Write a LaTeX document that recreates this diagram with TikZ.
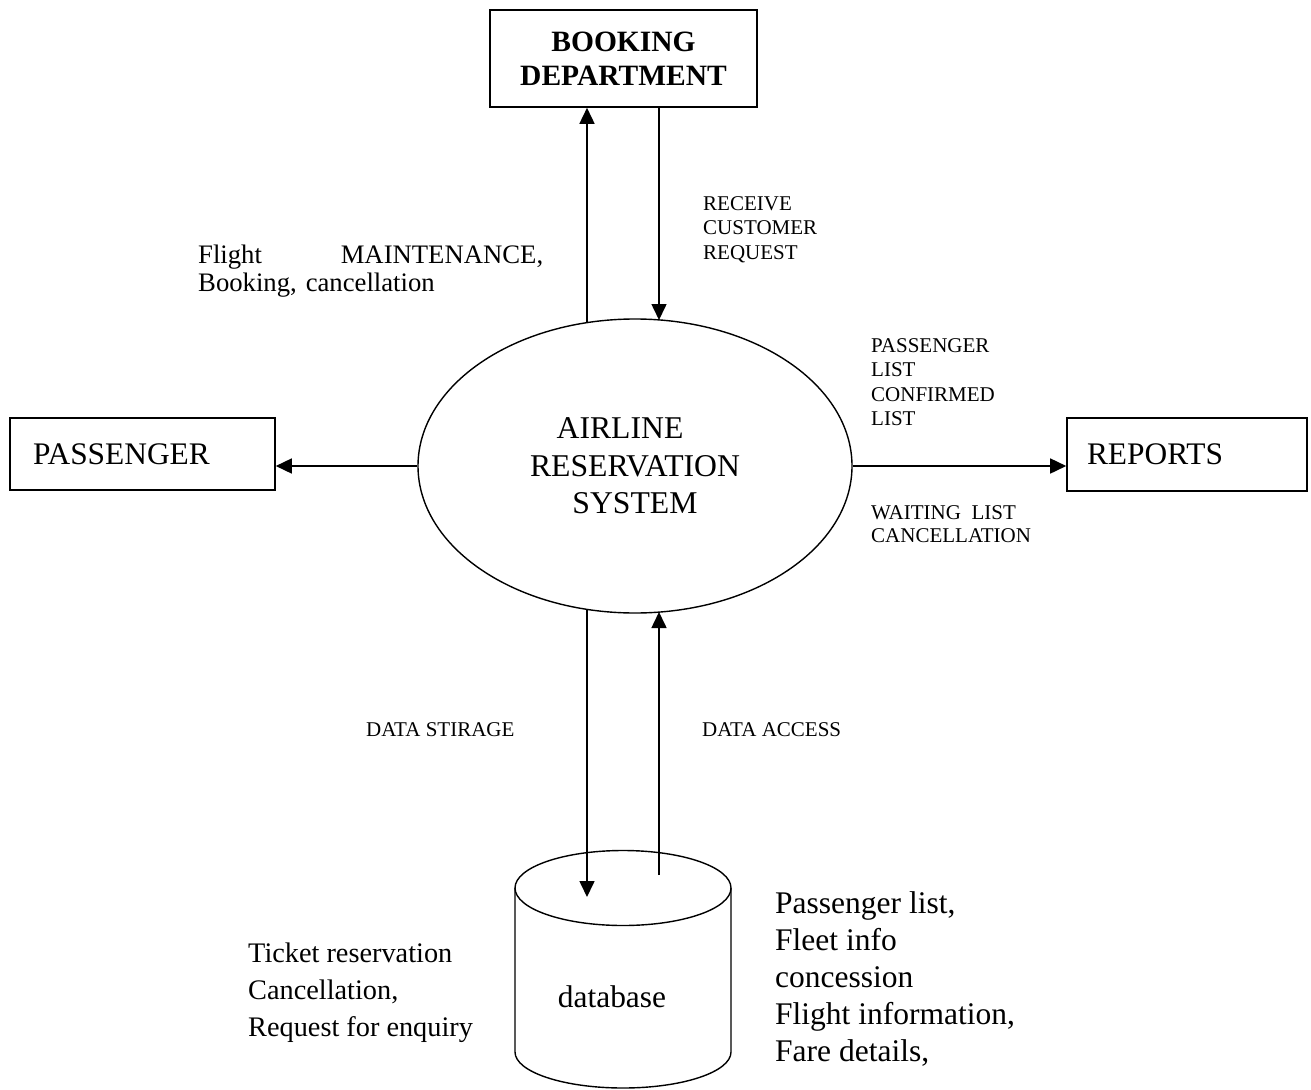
\documentclass[tikz,border=0pt]{standalone}
\usepackage{fontspec}
\setmainfont{Liberation Serif}
\usepackage{tikz}
\usetikzlibrary{shapes.geometric, arrows.meta}
\tikzstyle{entity} = [rectangle, draw=black, line width=1.6pt, inner sep=0pt]
\tikzstyle{process} = [ellipse, draw=black, line width=1.4pt, minimum width=434pt, minimum height=294pt, inner sep=0pt, align=center, font=\fontsize{31.7}{37.5}\selectfont]
\tikzstyle{arrow} = [line width=1.6pt,-{Triangle[length=16pt,width=15pt]}]
\tikzstyle{flow} = [inner sep=0pt, anchor=base west, align=left, font=\fontsize{21}{24.5}\selectfont]
\tikzstyle{store} = [inner sep=0pt, anchor=base west, align=left, font=\fontsize{28.3}{37}\selectfont]

\begin{document}
\begin{tikzpicture}[x=1pt, y=-1pt]
\useasboundingbox (0,0) rectangle (1311,1089);

\node (booking) [entity, minimum width=267pt, minimum height=97pt, align=center, font=\bfseries\fontsize{29.5}{34}\selectfont] at (623.5,58.5) {BOOKING\\DEPARTMENT};
\node (sys) [process] at (635,466) {AIRLINE\hspace*{30pt}\\RESERVATION\\SYSTEM};
\node (passenger) [entity, minimum width=265pt, minimum height=72pt, text width=219pt, align=left, font=\fontsize{31.4}{37}\selectfont] at (142.5,454) {PASSENGER};
\node (reports) [entity, minimum width=240pt, minimum height=73pt, text width=200pt, align=left, font=\fontsize{31.4}{37}\selectfont] at (1187,454.5) {REPORTS};

% database store
\coordinate (dbtop) at (623,888);
\draw [line width=1.4pt] (dbtop) ellipse [x radius=108pt, y radius=37.5pt];
\draw [line width=1.4pt] ([xshift=-108pt]dbtop) -- ++(0,164) arc [start angle=180, end angle=360, x radius=108pt, y radius=36pt] -- ([xshift=108pt]dbtop);
\node (db) [inner sep=0pt, font=\fontsize{31.4}{37}\selectfont] at (612,997) {database};

\draw [arrow] ([xshift=-48pt,yshift=143pt]sys.center) -- ([xshift=-36.5pt]booking.south);
\draw [arrow] ([xshift=35.5pt]booking.south) -- ([xshift=24pt,yshift=146pt]sys.center);
\draw [arrow] (sys.west) -- (sys.west -| passenger.east);
\draw [arrow] (sys.east) -- (sys.east -| reports.west);
\draw [arrow] ([xshift=-48pt,yshift=-143pt]sys.center) -- ([xshift=-36pt,yshift=-9pt]dbtop);
\draw [arrow] ([xshift=36pt,yshift=13pt]dbtop) -- ([xshift=24pt,yshift=-146pt]sys.center);

% flow labels (anchored at the baseline of the last line)
\node (maint) [store, text width=345pt, font=\fontsize{26.7}{28}\selectfont] at (198,263) {Flight\hfill MAINTENANCE,\\Booking, cancellation};
\node (recv) [flow] at (703,259) {RECEIVE\\CUSTOMER\\REQUEST};
\node (plist) [flow] at (871,425.5) {PASSENGER\\LIST\\CONFIRMED\\LIST};
\node (wlist) [flow, font=\fontsize{21}{23.5}\selectfont] at (871,542.5) {WAITING~~LIST\\CANCELLATION};
\node (dstore) [flow] at (366,736) {DATA STIRAGE};
\node (daccess) [flow] at (702,736) {DATA ACCESS};
\node (ops) [store] at (248,1036) {Ticket reservation\\Cancellation,\\Request for enquiry};
\node (info) [store, font=\fontsize{31.5}{37}\selectfont] at (775,1061) {Passenger list,\\Fleet info\\concession\\Flight information,\\Fare details,};

\end{tikzpicture}
\end{document}
